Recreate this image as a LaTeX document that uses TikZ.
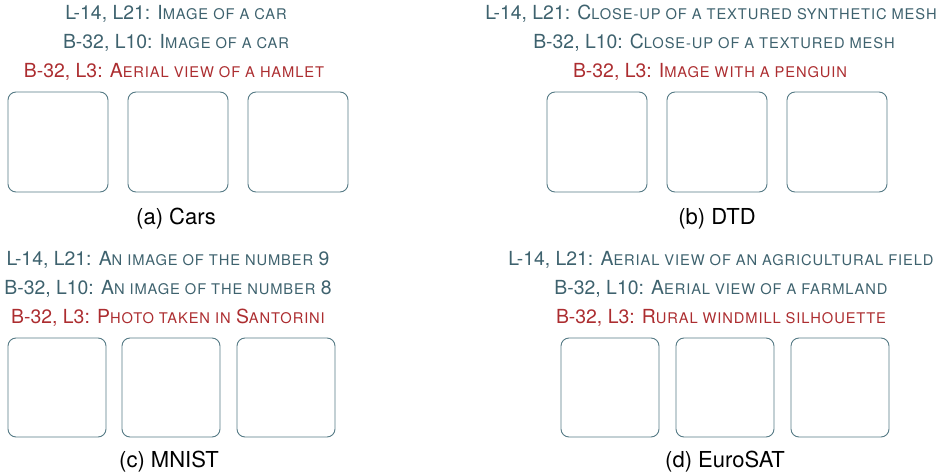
\documentclass[tikz,border=0pt]{standalone}
\usepackage{fontspec}
\setmainfont{TeX Gyre Heros}
\definecolor{slate}{RGB}{62,98,110}
\definecolor{boxc}{RGB}{85,122,133}
\definecolor{redc}{RGB}{172,45,48}
\newcommand\smc[1]{{\fontsize{14.7}{16}\selectfont\addfontfeatures{LetterSpace=6}\uppercase{#1}}}
\begin{document}
\begin{tikzpicture}[x=1pt,y=-1pt,
  desc/.style={font=\fontsize{19.4}{21}\selectfont, text=slate, inner sep=0pt, anchor=center},
  descr/.style={desc, text=redc},
  imgbox/.style={draw=boxc, line width=0.9pt, rounded corners=8pt, minimum width=100pt, minimum height=100pt, inner sep=0pt},
  captxt/.style={font=\fontsize{22}{24}\selectfont, text=black, inner sep=0pt}]
\useasboundingbox (0,0) rectangle (951,473);
% (a)
\node[desc] (a1) at (176,14) {L-14, L21: I\smc{mage of a car}};
\node[desc] (a2) at (176,43) {B-32, L10: I\smc{mage of a car}};
\node[descr] (a3) at (174,72) {B-32, L3: A\smc{erial view of a hamlet}};
\node[imgbox] (ab1) at (58,142) {};
\node[imgbox] (ab2) at (178,142) {};
\node[imgbox] (ab3) at (298,142) {};
\node[captxt] (acap) at (176,219) {(a) Cars};
% (b)
\node[desc] (b1) at (711,14) {L-14, L21: C\smc{lose-up of a textured synthetic mesh}};
\node[desc] (b2) at (714,43) {B-32, L10: C\smc{lose-up of a textured mesh}};
\node[descr] (b3) at (710,72) {B-32, L3: I\smc{mage with a penguin}};
\node[imgbox] (bb1) at (597,142) {};
\node[imgbox] (bb2) at (717,142) {};
\node[imgbox] (bb3) at (837,142) {};
\node[captxt] (bcap) at (717,219) {(b) DTD};
% (c)
\node[desc] (c1) at (168,260) {L-14, L21: A\smc{n image of the number} 9};
\node[desc] (c2) at (168,289) {B-32, L10: A\smc{n image of the number} 8};
\node[descr] (c3) at (168,318) {B-32, L3: P\smc{hoto taken in} S\smc{antorini}};
\node[imgbox, minimum width=98pt, minimum height=99pt] (cb1) at (57,387.5) {};
\node[imgbox, minimum width=98pt, minimum height=99pt] (cb2) at (171,387.5) {};
\node[imgbox, minimum width=98pt, minimum height=99pt] (cb3) at (286,387.5) {};
\node[captxt] (ccap) at (169,462) {(c) MNIST};
% (d)
\node[desc] (d1) at (721,260) {L-14, L21: A\smc{erial view of an agricultural field}};
\node[desc] (d2) at (721,289) {B-32, L10: A\smc{erial view of a farmland}};
\node[descr] (d3) at (721,318) {B-32, L3: R\smc{ural windmill silhouette}};
\node[imgbox, minimum width=98pt, minimum height=99pt] (db1) at (610,387.5) {};
\node[imgbox, minimum width=98pt, minimum height=99pt] (db2) at (725,387.5) {};
\node[imgbox, minimum width=98pt, minimum height=99pt] (db3) at (840,387.5) {};
\node[captxt] (dcap) at (725,462) {(d) EuroSAT};
\end{tikzpicture}
\end{document}
